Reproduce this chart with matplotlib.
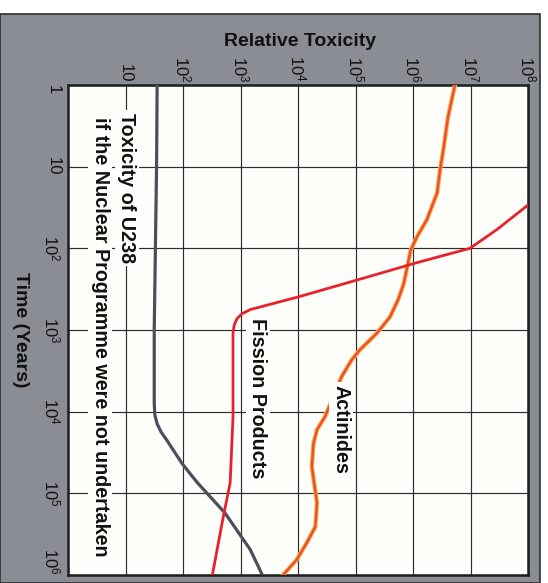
import matplotlib
matplotlib.use("Agg")
import matplotlib.pyplot as plt
from matplotlib.patches import Rectangle

plt.rcParams["font.family"] = ["Liberation Sans", "DejaVu Sans"]
plt.rcParams["mathtext.fontset"] = "custom"
plt.rcParams["mathtext.rm"] = "Liberation Sans"
plt.rcParams["mathtext.it"] = "Liberation Sans:italic"
plt.rcParams["mathtext.bf"] = "Liberation Sans:bold"

# Toxicity of natural U238 if no nuclear programme existed
u238_years = [1, 10, 100, 1000, 7900, 11000, 14100, 17800, 22400, 29500,
              42700, 51300, 74100, 174000, 490000, 1e6]
u238_tox = [35.5, 34.7, 33.1, 31.6, 31.6, 32.4, 35.5, 41.7, 52.5, 67.6,
            95.5, 117, 178, 537, 1480, 2400]

# Fission products
fission_years = [29.5, 58.9, 100, 151, 245, 389, 562, 631, 724, 871,
                 1100, 11500, 74100, 195000, 1e6]
fission_tox = [1e8, 2.88e7, 9.77e6, 1.12e6, 1.05e5, 1.07e4, 1480, 1070,
               871, 776, 741, 741, 661, 501, 324]

# Actinides
actinide_years = [1, 2.45, 6.76, 11.0, 20.9, 44.7, 72.4, 105, 269, 427, 692,
                  1100, 1740, 2340, 3720, 7240, 11500, 16600, 24500, 46800,
                  132000, 257000, 407000, 646000, 1e6]
actinide_tox = [5.37e6, 4.07e6, 3.31e6, 2.95e6, 2.63e6, 1.74e6, 1.17e6,
                9.12e5, 6.92e5, 5.50e5, 3.98e5, 2.34e5, 1.20e5, 8.51e4,
                5.75e4, 3.89e4, 2.95e4, 2.14e4, 1.86e4, 1.74e4, 2.14e4,
                2.00e4, 1.41e4, 9.55e3, 5.50e3]

tox_ticks = [1, 10, 1e2, 1e3, 1e4, 1e5, 1e6, 1e7, 1e8]
tox_ticklabels = ["", "10", "10$^{2}$", "10$^{3}$", "10$^{4}$", "10$^{5}$",
                  "10$^{6}$", "10$^{7}$", "10$^{8}$"]
time_ticks = [1, 10, 1e2, 1e3, 1e4, 1e5, 1e6]
time_ticklabels = ["1", "10", "10$^{2}$", "10$^{3}$", "10$^{4}$",
                   "10$^{5}$", "10$^{6}$"]

W, H = 548, 583
fig = plt.figure(figsize=(W / 100, H / 100), dpi=100, facecolor="white")

# grey card behind the chart
fig.patches.append(Rectangle((0, 0), 540 / W, (H - 14) / H,
                             transform=fig.transFigure, facecolor="#8b8d94",
                             edgecolor="#2e2e34", linewidth=1.2, zorder=-10))

ax = fig.add_axes([68 / W, (H - 575) / H, 460 / W, 490 / H])
ax.set_zorder(5)
ax.set_facecolor("#fefefb")
ax.set_xscale("log")
ax.set_yscale("log")
ax.set_xlim(1, 1e8)
ax.set_ylim(1e6, 1)

ax.xaxis.set_ticks_position("top")
ax.xaxis.set_label_position("top")
ax.set_xticks(tox_ticks)
ax.set_xticklabels(tox_ticklabels, rotation=-90, fontsize=12, color="#111111")
ax.set_yticks(time_ticks)
ax.set_yticklabels(time_ticklabels, rotation=-90, fontsize=12, color="#111111",
                   va="center")
ax.minorticks_off()
ax.tick_params(axis="x", length=0, pad=2)
ax.tick_params(axis="y", length=0, pad=5)
ylabels = ax.get_yticklabels()
ylabels[0].set_va("top")
ylabels[-1].set_va("bottom")

ax.grid(True, which="major", color="#2c2c2c", linewidth=0.85)
ax.set_axisbelow(True)
for s in ax.spines.values():
    s.set_linewidth(1.8)
    s.set_color("#1e1e1e")

ax.plot(u238_tox, u238_years, color="#4b4f5c", linewidth=2.3,
        solid_joinstyle="round", solid_capstyle="butt", zorder=3)
# actinide curve: orange rim with a red-orange core
ax.plot(actinide_tox, actinide_years, color="#f7b245", linewidth=3.2,
        solid_joinstyle="round", zorder=3)
ax.plot(actinide_tox, actinide_years, color="#ee4d33", linewidth=1.7,
        solid_joinstyle="round", zorder=4)
ax.plot(fission_tox, fission_years, color="#e8222c", linewidth=2.0,
        solid_joinstyle="round", zorder=5)

box = dict(facecolor="#fefefb", edgecolor="none", pad=2)
lbl = dict(rotation=-90, fontsize=14.2, fontweight="bold", color="#111111",
           transform=ax.transAxes, ha="center", va="top", bbox=box, zorder=6)
ax.text(0.128, 0.943, "Toxicity of U238", **lbl)
ax.text(0.070, 0.935, "if the Nuclear Programme were not undertaken", **lbl)
ax.text(0.413, 0.524, "Fission Products", **lbl)
ax.text(0.593, 0.388, "Actinides", **lbl)

fig.text(300 / W, 1 - 41 / H, "Relative Toxicity", fontsize=14,
         fontweight="bold", color="#111111", ha="center", va="center")
fig.text(20 / W, 1 - 330 / H, "Time (Years)", fontsize=14, fontweight="bold",
         color="#111111", rotation=-90, ha="center", va="center")

fig.savefig("out.png", dpi=100, facecolor="white")
